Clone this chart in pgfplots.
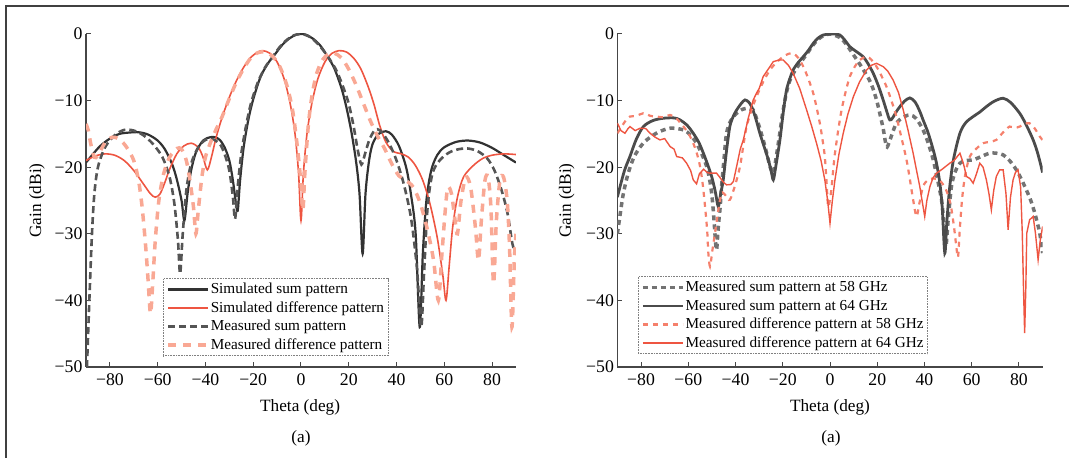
\documentclass[border=0pt]{standalone}
\usepackage{fontspec}
\setmainfont{Liberation Serif}
\usepackage{pgfplots}
\pgfplotsset{compat=1.18}

\definecolor{axgray}{RGB}{70,70,70}
\definecolor{simblk}{RGB}{50,50,50}
\definecolor{msblk}{RGB}{85,85,85}
\definecolor{redline}{RGB}{238,85,65}
\definecolor{lightsalmon}{RGB}{249,168,148}
\definecolor{salmon}{RGB}{245,128,108}
\definecolor{sumgray}{RGB}{115,115,115}
\definecolor{sumdark}{RGB}{75,75,75}

\pgfplotsset{
  gainaxis/.style={
    scale only axis, height=333bp,
    xmin=-90, xmax=90, ymin=-50, ymax=0,
    axis x line*=bottom, axis y line*=left,
    axis line style={line width=1.1bp, color=axgray},
    xtick={-80,-60,...,80},
    xticklabels={−80,−60,−40,−20,0,20,40,60,80},
    ytick={-50,-40,...,0},
    yticklabels={−50,−40,−30,−20,−10,0},
    tick align=inside, major tick length=5bp,
    tick style={line width=1bp, color=axgray},
    ticklabel style={font=\fontsize{17.8}{20}\selectfont},
    xticklabel style={yshift=-3bp},
    label style={font=\fontsize{17.3}{20}\selectfont},
    xlabel={Theta (deg)}, ylabel={Gain (dBi)},
    legend cell align=left,
    legend style={draw=gray, densely dotted, line width=0.6bp,
      font=\fontsize{15.3}{18}\selectfont, inner xsep=3bp, inner ysep=1.5bp,
      nodes={inner sep=1bp, text height=12.5bp, text depth=4bp}},
    legend image code/.code={\draw[##1] (0bp,0bp) -- (40bp,0bp);},
  }
}

\begin{document}
\begin{tikzpicture}
\useasboundingbox (0bp,0bp) rectangle (1069bp,458bp);
\draw[line width=1.5bp, color=black!75] (6bp,0bp) -- (6bp,452bp) -- (1069bp,452bp);

% ---------------- left panel ----------------
\begin{axis}[gainaxis, at={(86bp,91bp)}, anchor=south west, width=430bp,
  xlabel style={at={(axis description cs:0.498,-0.12)}, anchor=center},
  ylabel style={at={(axis description cs:-0.114,0.5)}, anchor=center},
  legend style={at={(0.179,0.033)}, anchor=south west}]
% simulated sum pattern
\addplot[solid, simblk, line width=2.2bp, smooth, tension=0.5] table {
x y
-90 -19.3
-87 -18.0
-84 -16.8
-80 -15.7
-76 -15.0
-72 -14.8
-68 -14.75
-64 -15.1
-60 -16.0
-57 -17.3
-54 -19.5
-52 -21.8
-50 -25.0
-48.8 -28.0
-47.5 -24.0
-46 -20.5
-44 -17.8
-41 -16.0
-38 -15.5
-36 -15.5
-34 -15.9
-32 -17.0
-30 -19.0
-28.5 -22
-27 -26.0
-26.4 -26.3
-25.5 -22
-24 -17.0
-22 -12.8
-20 -9.8
-17 -6.5
-14 -4.5
-11 -3.1
-8 -1.7
-5 -0.7
-2 -0.1
0 0
2 -0.1
5 -0.7
8 -1.7
11 -3.3
14 -5.2
17 -8.2
19 -11
21 -14.5
23 -19
24.5 -24
25.8 -33
27 -24
28.5 -19
30 -16.5
32.5 -15
35.5 -14.6
38 -15.1
41 -16.8
44 -20
46 -24
48 -30
49.7 -44
51 -33
52.5 -25
54.5 -20.5
57 -18.2
60 -17
65 -16.2
70 -16
75 -16.3
80 -17.1
85 -18.2
90 -19.3
};
\addlegendentry{Simulated sum pattern}
% simulated difference pattern
\addplot[solid, redline, line width=1.6bp, smooth, tension=0.5] table {
x y
-90 -19
-86 -18.3
-82 -18.0
-78 -18.2
-74 -19.0
-70 -20.5
-66 -22.5
-63 -24.0
-61 -24.5
-59 -24
-57 -22.3
-55 -20.3
-52 -18.0
-49 -16.8
-46 -16.4
-43 -17.0
-41 -18.5
-39.2 -20.4
-37.5 -18.5
-35.5 -15.5
-33 -12.5
-30 -9.5
-27 -7.0
-24 -5.0
-21 -3.5
-18 -2.7
-16 -2.5
-13 -2.9
-10 -4.2
-7 -6.8
-4.5 -10.5
-2.5 -15
-1 -21
0 -28
1 -21
2.5 -15
4.5 -10.5
7 -6.8
10 -4.2
13 -2.9
16 -2.5
19 -2.7
22 -3.6
25 -5.2
28 -7.8
30.5 -10.5
33 -13.8
35.5 -16.2
38.5 -17.6
42 -18.0
45 -18.5
48 -19.8
51 -22
54 -25.5
57 -30.5
59.3 -36
60.7 -40
62 -35
63.5 -29
65.5 -24.5
68 -21.5
72 -19.8
76 -18.7
80 -18.2
85 -18.0
90 -18.1
};
\addlegendentry{Simulated difference pattern}
% measured sum pattern
\addplot[msblk, line width=2.6bp, dash pattern=on 7bp off 4bp, smooth, tension=0.5] table {
x y
-89.6 -50
-88.6 -40
-87.5 -30
-86.5 -24
-85 -20
-82 -17
-78 -15.2
-74 -14.4
-70 -14.5
-66 -15.2
-62 -16.5
-58 -18.5
-55 -21.5
-53 -25.5
-51.5 -31
-50.6 -36
-49.5 -30
-48 -23.5
-46 -19.5
-43 -17
-40 -15.9
-37 -15.8
-34 -16.5
-32 -18
-30 -20.5
-28.5 -24.5
-27.6 -27.8
-26.5 -23
-25 -18
-23 -13.8
-21 -10.5
-18 -7.2
-15 -5.0
-12 -3.5
-9 -2.0
-6 -0.9
-3 -0.2
0 0
3 -0.3
6 -1.1
9 -2.3
12 -3.8
15 -5.6
18 -8.3
20 -10.5
22 -13.8
23.8 -17.5
25.3 -19.6
26.8 -18
28.5 -16
30.5 -14.6
32 -14.3
34 -14.8
37 -16.5
40 -19
43 -22.5
46 -27.5
48.5 -35
50.3 -44
51.5 -36
53 -26
55 -21
58 -19
62 -17.8
66 -17.3
70 -17.2
74 -17.6
78 -18.7
81 -20.5
84 -23.5
86.5 -27
88.5 -31.5
90 -33
};
\addlegendentry{Measured sum pattern}
% measured difference pattern
\addplot[lightsalmon, line width=3.5bp, dash pattern=on 8bp off 7bp, smooth, tension=0.5] table {
x y
-90 -13.5
-89 -14.5
-88 -16.5
-86.5 -18.5
-85 -18.2
-82 -16.3
-79 -15.5
-76 -15.8
-73 -17.0
-70 -19.0
-68 -22
-66.5 -26
-65 -32
-64 -37
-63 -42
-62 -37
-61 -31
-59.5 -25
-57.5 -21
-55 -18.5
-52 -17.2
-50 -17.3
-48 -19
-46.5 -22
-45 -26
-44 -30
-43 -26.5
-41.5 -21.5
-40 -18.5
-38 -16.4
-35.5 -14.3
-33 -12.4
-30 -9.7
-27 -7.2
-24 -5.2
-21 -3.6
-18 -2.8
-15 -2.7
-12 -3.3
-9 -4.8
-6 -7.6
-3.5 -11.5
-1.5 -17
0 -22.5
0.8 -26.5
1.6 -21
3 -14
4.5 -9.5
6.5 -6.0
9 -3.9
11.5 -3.0
14 -2.9
17 -3.6
20 -5.3
23 -7.6
26 -10.3
29 -13.0
32 -15.3
35 -17.2
38 -19.5
41 -21.3
44 -22.0
47 -23
50 -25.5
53 -29.5
55.5 -34
57.5 -40
59 -33
60.5 -26
61.5 -23
63 -24
64.5 -28
65.5 -30
67 -25
69 -21.5
71 -23
73 -29
74.3 -34
75.5 -28
77 -22
78.3 -21.5
79.5 -26
80.6 -37.5
81.8 -28
83.3 -22
84.8 -21.5
86.3 -25
87.3 -32
88.3 -44
89.3 -34
90 -30
};
\addlegendentry{Measured difference pattern}
\end{axis}
\node[font=\fontsize{17.3}{20}\selectfont] at (301bp,20bp) {(a)};

% ---------------- right panel ----------------
\begin{axis}[gainaxis, at={(617.4bp,91bp)}, anchor=south west, width=425.2bp,
  xlabel style={at={(axis description cs:0.5,-0.12)}, anchor=center},
  ylabel style={at={(axis description cs:-0.119,0.5)}, anchor=center},
  legend style={at={(0.048,0.039)}, anchor=south west}]
% measured sum 58 GHz
\addplot[sumgray, line width=3.5bp, dash pattern=on 5bp off 4bp, smooth, tension=0.5] table {
x y
-90 -30
-89 -27.5
-87.5 -24
-85.5 -21
-83 -18.5
-80 -16.8
-77.6 -15.9
-73 -14.8
-67.7 -14.15
-62 -14.4
-59 -15.2
-56.5 -16.4
-54.3 -18
-52.2 -19.9
-51 -21.8
-50.1 -23.9
-49.3 -27
-48.5 -31
-48 -32.4
-47.3 -29
-46.5 -26
-45.9 -22.9
-44.8 -18.5
-43.8 -14.9
-42 -13
-39.5 -11.9
-37 -11.3
-35.3 -11.15
-33.5 -11.3
-32.5 -11.4
-30.5 -13.3
-28.3 -15.9
-26.8 -17.9
-25.4 -19.9
-24 -20.9
-23 -19
-21.5 -15.5
-20 -11.8
-18.5 -8.9
-17 -7
-15 -5.6
-12.5 -4.3
-10 -3.1
-7.5 -1.8
-5 -0.8
-2.5 -0.2
0 0
2 -0.2
4.5 -0.6
7 -1.6
9.5 -2.9
12 -4.2
14 -5.3
16.5 -6.8
18 -8.0
19.7 -9.9
21 -11.8
22.5 -14.2
23.9 -16.9
25 -16.3
26.5 -14.8
28.1 -13.4
30.5 -12.6
33.8 -12.15
36.5 -12.7
39.4 -14.4
41.5 -16.3
43.7 -18.9
45.5 -21.8
47.2 -24.9
48 -27.5
48.6 -29.9
49.2 -31.5
50 -28
51.4 -22.9
53 -20.7
55 -19.4
57.5 -19.0
60.6 -18.9
64 -18.4
67.6 -17.9
70.5 -17.9
73.3 -18.15
76 -19
78.9 -20.4
81 -21.8
83.1 -23.4
85 -25
86.7 -26.9
88 -28.7
88.8 -29.9
90 -32.9
};
\addlegendentry{Measured sum pattern at 58 GHz}
% measured sum 64 GHz
\addplot[solid, sumdark, line width=2.8bp, smooth, tension=0.5] table {
x y
-90 -24.5
-89.6 -23.9
-87 -20.5
-84.7 -18.4
-82 -15.8
-79 -13.9
-75 -13.0
-70.5 -12.65
-66 -12.6
-63.5 -12.9
-60.5 -13.7
-57.9 -14.9
-55.5 -16.3
-53.6 -17.9
-51.8 -19.6
-50.1 -21.4
-48.6 -23.6
-47.3 -25.9
-46.3 -24
-45.2 -21.9
-43.8 -17.5
-42.4 -13.9
-41 -12.4
-39.5 -11.4
-37.5 -10.4
-36 -9.9
-34.5 -10.2
-33.2 -10.9
-31.5 -12.6
-29.7 -14.9
-27.8 -17.0
-26.1 -18.9
-24.9 -20.6
-24 -21.9
-23 -20
-21.2 -15.9
-19.7 -11.5
-18.4 -8.4
-17 -6.7
-15.6 -5.4
-13.5 -4.3
-11.3 -3.4
-9 -2.4
-7.1 -1.4
-5 -0.6
-2.9 -0.15
0 0
2 0
4.2 -0.15
6 -0.8
8.4 -1.9
11 -2.6
14 -3.4
16 -4.4
18.3 -5.9
20.5 -7.8
22.5 -9.9
24 -11.6
25.3 -12.9
26.5 -12.6
28 -11.7
29.6 -10.9
31.5 -10.1
33.8 -9.6
36 -10.2
38 -11.6
39.4 -12.9
41.5 -14.8
43.7 -17.4
45.2 -19.6
46.5 -22.4
47.5 -26
48.6 -32.9
49.5 -28
50.7 -22.9
52.3 -18.8
55 -14.9
57.5 -13.3
60.6 -12.4
63.5 -11.7
66.2 -10.9
69.5 -10.1
73.3 -9.65
76.5 -10.3
80.3 -11.9
83 -13.6
86 -15.9
88 -18
90 -20.8
};
\addlegendentry{Measured sum pattern at 64 GHz}
% measured difference 58 GHz
\addplot[salmon, line width=2.2bp, dash pattern=on 5bp off 5bp, smooth, tension=0.5] table {
x y
-90 -14.9
-88 -13.8
-86.5 -13
-84.7 -12.4
-82 -12.3
-79 -11.9
-76 -12.3
-73.4 -12.4
-70.5 -12.5
-67.7 -12.15
-65 -12.7
-62 -13.9
-59.8 -15
-57.9 -16.4
-56.3 -18
-55 -19.9
-53.9 -22.5
-52.9 -25.9
-52 -29.5
-51.5 -32.9
-50.8 -34.9
-49.8 -32.5
-48.7 -29.9
-47.3 -26.5
-45.9 -23.9
-44.3 -24.2
-42.4 -24.9
-40 -22.5
-38.1 -19.9
-36.7 -16.8
-35.3 -13.9
-33.2 -11.4
-31.1 -9.4
-28.3 -7.2
-25.4 -5.4
-22.5 -4.2
-19.8 -3.4
-17.7 -3.0
-15.6 -2.9
-13.4 -3.6
-11.3 -4.9
-9.2 -6.7
-7.1 -8.9
-5.7 -11
-4.3 -13.4
-3.2 -15.8
-2.2 -18.4
-1.5 -22
-0.8 -25.9
0 -24.8
0.7 -22.9
1.4 -20.2
2.1 -17.9
3.5 -14.4
4.9 -11.4
6.6 -8.7
8.4 -6.4
10.5 -4.9
12.6 -3.9
15.5 -3.4
17.6 -3.9
19.7 -4.9
21.8 -6.3
23.9 -7.9
26 -10
28.1 -12.4
30.2 -15.5
32.4 -18.9
33.8 -21.8
35.2 -24.9
36.6 -27.4
37.8 -25.5
39.4 -22.9
41.5 -21.9
44 -21.7
46.5 -22
49 -23.3
51 -25.5
52.5 -29
53.5 -32
54.2 -33.5
55 -29
56 -24.5
57.3 -21
59.2 -18.4
62 -17.2
64.8 -16.4
67.6 -16.2
70.4 -15.9
73.2 -14.8
76 -13.9
78 -14.1
80.3 -13.9
82.4 -13.5
84.5 -13.4
86.7 -14.2
88.8 -15.4
90 -15.9
};
\addlegendentry{Measured difference pattern at 58 GHz}
% measured difference 64 GHz
\addplot[solid, redline, line width=1.4bp] table {
x y
-90 -13.4
-88.5 -14.5
-86.8 -14.9
-85.5 -14.2
-84.7 -13.9
-82.5 -14.5
-80.4 -14.15
-78 -14.2
-76.2 -14.9
-74 -15.5
-72 -15.9
-70 -15.7
-67.7 -16.9
-66 -17.3
-64.9 -18.4
-62.5 -18.6
-60.7 -19.4
-59 -20.5
-57.9 -21.9
-56.5 -22.5
-55.3 -21
-53.5 -20.3
-52 -20.8
-50.8 -20.9
-48 -20.9
-46.5 -21.6
-45 -22.3
-43.8 -22.65
-42 -22.6
-40.9 -22.15
-39.3 -19.5
-38 -17.3
-36.7 -15.9
-34.5 -12.5
-32.5 -9.9
-31 -8.8
-30 -8.2
-28.3 -6.4
-26 -5.2
-24 -4.15
-21.5 -3.9
-19.8 -3.9
-17.6 -4.7
-15.6 -5.9
-12.8 -8.2
-9.9 -11.4
-7.8 -13.8
-5.7 -16.4
-3.8 -19
-2.2 -21.9
-1 -25
0 -28.4
1 -25
2.1 -21.9
3.8 -18
5.6 -14.9
7.6 -12
9.9 -9.4
12.5 -7.2
15.5 -5.4
17.5 -4.7
19.7 -4.4
22.5 -4.9
24.5 -5.6
26.7 -6.9
29 -8.8
31 -11.4
33 -14.4
35.2 -17.9
36.7 -20.6
38 -22.9
39.2 -25.5
40.1 -27.4
41 -25
42.3 -22.9
43.6 -21.6
45.1 -20.9
47.5 -20.3
50.7 -19.4
52.5 -19
55 -17.9
56.5 -19.5
57.8 -21.4
59.2 -21.7
60.6 -22.4
62 -21
63.4 -19.4
64.8 -20
66.2 -21.9
67.3 -24
68.3 -26.4
69.3 -23.5
70.4 -21.4
71.8 -20.4
73.3 -20.4
74.5 -24
75.4 -29.4
76.4 -24.5
77.5 -21.9
78.5 -20.8
79.6 -20.4
80.7 -23
81.4 -29.9
81.9 -38
82.4 -44.9
82.9 -38
83.3 -29.9
84.5 -27.9
86 -27.4
87 -30
88.1 -33.9
89 -31
90 -28.9
};
\addlegendentry{Measured difference pattern at 64 GHz}
\end{axis}
\node[font=\fontsize{17.3}{20}\selectfont] at (831bp,20bp) {(a)};
\end{tikzpicture}
\end{document}
